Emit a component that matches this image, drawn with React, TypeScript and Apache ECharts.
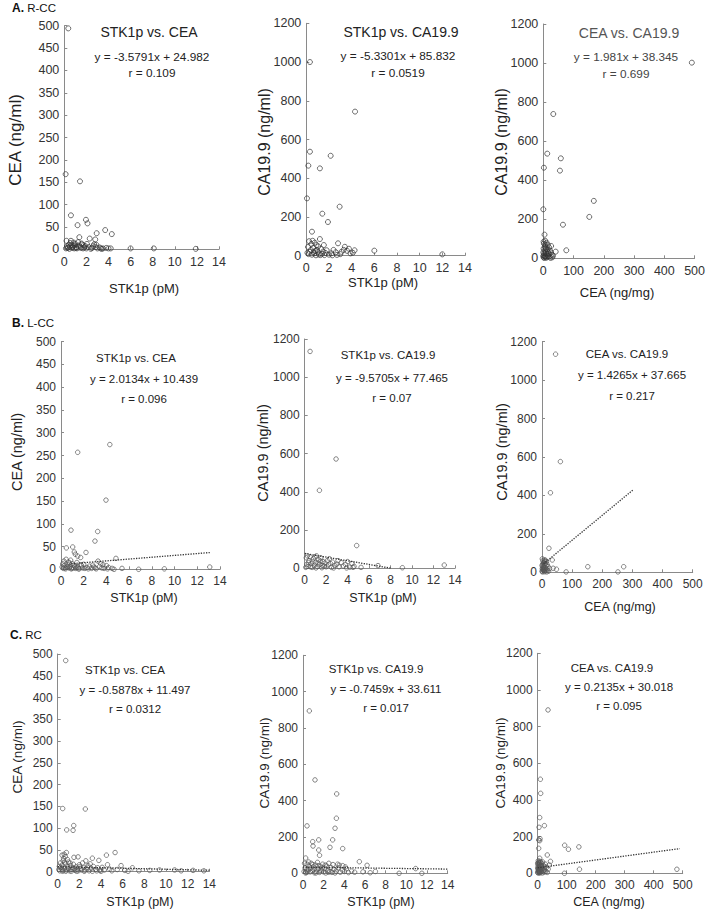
import React, { useEffect, useRef } from "react";
import * as echarts from "echarts";

// ---------- DATA ----------
const rowLabels = [
  { tag: "A.", name: "R-CC" },
  { tag: "B.", name: "L-CC" },
  { tag: "C.", name: "RC" },
];
const panelTitles = [
  "STK1p vs. CEA", "STK1p vs. CA19.9", "CEA vs. CA19.9",
  "STK1p vs. CEA", "STK1p vs. CA19.9", "CEA vs. CA19.9",
  "STK1p vs. CEA", "STK1p vs. CA19.9", "CEA vs. CA19.9",
];
const equations = [
  "y = -3.5791x + 24.982", "y = -5.3301x + 85.832", "y = 1.981x + 38.345",
  "y = 2.0134x + 10.439", "y = -9.5705x + 77.465", "y = 1.4265x + 37.665",
  "y = -0.5878x + 11.497", "y = -0.7459x + 33.611", "y = 0.2135x + 30.018",
];
const rValues = [
  "r = 0.109", "r = 0.0519", "r = 0.699",
  "r = 0.096", "r = 0.07", "r = 0.217",
  "r = 0.0312", "r = 0.017", "r = 0.095",
];
const xTitles = ["STK1p (pM)", "STK1p (pM)", "CEA (ng/mg)"];
const yTitles = ["CEA (ng/ml)", "CA19.9 (ng/ml)", "CA19.9 (ng/ml)"];
const xMaxes = [14, 14, 500];
const xSteps = [2, 2, 100];
const yMaxes = [500, 1200, 1200];
const ySteps = [50, 200, 200];

const a1Points = [[0.36,494],[0.12,168],[1.42,152],[0.6,76],[1.96,66],[2.1,58],[1.2,54],[2.93,36],[3.7,43],[4.3,34],[1.36,27],[2.3,24],[2.8,22],[2.9,10],[0.2,19],[0.6,19],[2.7,11],[1.0,12],[0.8,8],[0.5,6],[0.3,3],[0.15,2],[0.4,10],[0.7,3],[0.9,2],[1.1,5],[1.3,8],[1.5,3],[1.6,11],[1.8,4],[2.0,2],[2.2,5],[2.5,3],[2.6,7],[3.0,2],[3.2,4],[3.5,2],[3.8,3],[4.0,2],[4.2,2],[6.0,2],[8.1,2],[11.9,1],[0.25,7],[0.55,14],[0.75,5],[0.95,9],[1.15,2],[1.25,16],[1.45,6],[1.7,2],[1.9,7],[2.4,1],[0.45,1],[0.85,15],[1.05,3],[0.65,10],[2.85,5],[3.4,1],[1.55,13],[0.35,4],[1.75,9],[2.05,12],[3.3,2]];
const a2Points = [[0.32,1000],[0.32,537],[0.18,465],[0.06,296],[1.2,451],[2.15,516],[4.3,744],[2.94,253],[1.41,217],[1.91,174],[0.5,124],[0.56,77],[0.74,67],[1.2,86],[2.8,64],[3.4,46],[3.76,36],[4.26,28],[6.0,26],[12,7],[0.1,15],[0.2,8],[0.3,20],[0.4,30],[0.5,5],[0.6,40],[0.7,12],[0.8,25],[0.9,55],[1.0,18],[1.1,6],[1.3,35],[1.4,10],[1.5,22],[1.6,3],[1.7,14],[1.8,28],[2.0,5],[2.2,12],[2.4,30],[2.6,18],[3.0,8],[3.1,20],[3.6,25],[3.9,12],[4.1,15],[0.15,45],[0.45,60],[0.65,20],[1.05,48],[1.25,3],[2.3,2],[2.7,4],[0.85,2],[0.25,75],[3.3,30],[1.55,55],[0.95,30]];
const a3Points = [[491,1002],[33,739],[13,536],[2,464],[58,512],[55,449],[167,294],[152,212],[65,172],[0,251],[4,121],[76,41],[41,34],[32,14],[26,63],[19,56],[6,90],[1,5],[2,15],[3,25],[4,40],[5,60],[2,75],[7,10],[8,30],[9,48],[10,20],[12,5],[14,35],[15,68],[16,12],[18,22],[20,8],[22,40],[24,2],[28,18],[1,50],[3,2],[6,70],[11,80],[0,30],[1,85],[5,8],[7,55],[9,3],[13,45],[17,28],[25,30],[30,5],[0,12]];
const b1Points = [[4.3,274],[1.47,257],[3.96,152],[0.88,86],[3.23,83],[2.99,62],[0.47,47],[1.03,49],[2.2,37],[1.26,33],[1.47,29],[1.73,26],[1.17,38],[0.26,18],[0.85,20],[3.26,18],[4.84,24],[5.37,2],[6.84,0],[9.1,1],[13.1,5],[4.67,0],[3.7,10],[0.1,5],[0.2,2],[0.3,8],[0.4,1],[0.5,4],[0.6,10],[0.7,3],[0.8,6],[0.9,1],[1.0,12],[1.1,3],[1.2,7],[1.3,2],[1.4,15],[1.5,5],[1.6,1],[1.8,8],[1.9,3],[2.0,11],[2.1,2],[2.3,4],[2.5,7],[2.7,2],[2.9,5],[3.1,1],[3.4,6],[3.6,3],[3.8,2],[4.0,8],[4.2,4],[4.5,2],[0.15,12],[0.35,3],[0.55,6],[0.75,14],[0.95,2],[1.15,9],[1.35,4],[1.55,1],[1.75,10],[2.4,1],[2.8,9],[3.0,3],[3.5,12],[4.1,1],[0.45,22],[0.65,16]];
const b2Points = [[0.5,1135],[2.92,572],[1.37,408],[4.84,119],[6.83,14],[9.1,3],[13.0,17],[5.25,5],[0.1,5],[0.2,20],[0.3,10],[0.4,40],[0.5,60],[0.6,25],[0.7,5],[0.8,50],[0.9,15],[1.0,30],[1.1,65],[1.2,10],[1.3,45],[1.4,20],[1.5,55],[1.6,3],[1.7,35],[1.8,12],[1.9,28],[2.0,8],[2.1,40],[2.2,18],[2.4,25],[2.5,5],[2.6,32],[2.8,15],[3.0,22],[3.2,8],[3.4,30],[3.6,12],[3.8,20],[4.0,35],[4.2,6],[4.4,25],[4.6,10],[0.15,55],[0.35,30],[0.55,8],[0.75,35],[0.95,60],[1.05,2],[1.25,28],[1.45,38],[1.65,15],[2.3,50],[2.7,2],[3.1,40],[0.25,65],[4.5,5],[3.9,2]];
const b3Points = [[45,1135],[61,576],[28,414],[23,125],[34,64],[152,29],[271,29],[252,2],[80,2],[48,16],[37,21],[0,5],[1,20],[2,40],[3,60],[4,10],[5,30],[6,50],[7,15],[8,65],[9,3],[10,25],[11,45],[12,8],[13,35],[14,18],[15,55],[16,2],[18,12],[20,30],[22,6],[25,20],[1,70],[2,2],[3,28],[5,12],[7,42],[9,58],[0,35],[4,48],[6,22],[12,62],[17,40],[2,15],[8,8]];
const c1Points = [[0.74,485],[0.46,145],[2.55,144],[1.48,106],[1.42,95],[0.83,96],[5.3,44],[4.5,38],[3.8,26],[3.2,31],[1.88,34],[1.5,33],[0.6,40],[0.4,38],[0.8,44],[0.7,35],[0.55,30],[0.9,28],[1.0,22],[0.5,25],[5.85,14],[6.9,9],[9.4,4],[10.8,4],[11.4,2],[0.1,5],[0.2,2],[0.3,10],[0.4,15],[0.5,3],[0.6,8],[0.7,18],[0.8,4],[0.9,12],[1.0,6],[1.1,2],[1.2,14],[1.3,5],[1.4,9],[1.6,3],[1.7,11],[1.8,6],[1.9,2],[2.0,16],[2.1,8],[2.2,4],[2.3,20],[2.4,10],[2.5,3],[2.6,25],[2.7,6],[2.8,14],[2.9,2],[3.0,18],[3.1,8],[3.3,12],[3.5,5],[3.7,9],[3.9,3],[4.1,10],[4.3,4],[4.6,16],[4.8,6],[5.0,2],[5.5,5],[6.2,3],[6.5,1],[0.15,12],[0.25,20],[0.35,6],[0.45,1],[0.65,22],[0.75,1],[0.95,8],[1.15,20],[1.25,1],[1.45,17],[1.55,7],[1.75,1],[2.05,12],[2.45,1],[2.75,10],[3.2,1],[3.6,2],[4.0,1],[7.5,2],[8.5,3],[12.5,3],[13.5,2]];
const c2Points = [[0.61,894],[1.16,514],[3.26,437],[3.23,303],[3.1,248],[0.39,261],[2.87,184],[1.52,184],[0.94,174],[0.97,150],[1.52,128],[2.61,143],[1.6,99],[3.84,136],[0.26,84],[5.45,64],[6.2,44],[10.9,26],[9.3,0],[11.5,0],[3.35,50],[3.84,42],[0.1,10],[0.2,30],[0.3,5],[0.4,50],[0.5,20],[0.6,40],[0.7,8],[0.8,55],[0.9,15],[1.0,35],[1.1,3],[1.2,45],[1.3,12],[1.4,60],[1.5,25],[1.6,5],[1.7,38],[1.8,18],[1.9,50],[2.0,8],[2.1,28],[2.2,2],[2.3,40],[2.4,15],[2.5,55],[2.6,10],[2.7,32],[2.8,5],[3.0,22],[3.2,12],[3.4,30],[3.6,6],[3.8,18],[4.0,10],[4.2,25],[4.4,4],[4.7,12],[5.0,6],[5.8,8],[6.5,3],[7.0,10],[0.15,55],[0.35,18],[0.55,62],[0.75,28],[0.95,48],[1.05,20],[1.25,2],[1.45,42],[1.65,15],[1.85,30],[2.15,45],[2.45,6],[2.9,48],[3.1,2],[3.5,45],[4.1,35],[0.25,2],[0.45,8]];
const c3Points = [[35.6,891],[9.2,513],[10.3,436],[6.9,304],[4.6,251],[23,260],[8,189],[3.4,182],[7,178],[3.4,136],[93,153],[106,131],[142,144],[33,100],[44,65],[144,22],[92,0],[480,22],[7,82],[0,5],[1,20],[2,40],[3,60],[4,10],[5,30],[6,50],[7,15],[8,65],[9,3],[10,25],[11,45],[12,8],[13,35],[14,55],[15,12],[16,2],[18,28],[20,42],[22,6],[24,18],[26,50],[28,10],[30,32],[33,5],[36,22],[40,45],[2,8],[3,25],[4,52],[5,2],[6,35],[7,58],[8,12],[9,42],[0,30],[1,48],[2,68],[3,15],[10,60],[12,20],[15,38],[1,2],[4,28],[6,5],[0,55],[17,62],[20,15],[25,35]];

// trend line endpoints (null = no line drawn)
const trendLines: (number[][] | null)[] = [
  null, null, null,
  [[0.9, 12.3], [13.1, 36.8]],
  [[0, 77.5], [8.1, 0]],
  [[5, 44], [303, 430]],
  [[0, 11.5], [14, 3.3]],
  [[0, 33.6], [14, 23.2]],
  [[0, 30], [490, 134.6]],
];

const allPoints = [a1Points, a2Points, a3Points, b1Points, b2Points, b3Points, c1Points, c2Points, c3Points];

// ---------- LAYOUT ----------
const grids = [
  { left: 64.3, top: 25.7, width: 154.7, height: 223.6 },
  { left: 306.3, top: 23.3, width: 158.7, height: 232.4 },
  { left: 543.3, top: 24, width: 154.4, height: 234.3 },
  { left: 61, top: 341.7, width: 159, height: 227.6 },
  { left: 304.7, top: 339, width: 150.3, height: 229.3 },
  { left: 542, top: 341.7, width: 150.7, height: 230.6 },
  { left: 57.7, top: 654, width: 151.6, height: 217.7 },
  { left: 303, top: 655.3, width: 144.7, height: 218 },
  { left: 537.7, top: 653.3, width: 145, height: 220 },
];
// [titleX, titleY, eqX, eqY, rY]
const textPos = [
  [149, 32, 152, 57, 73],
  [401, 32, 398, 56, 73],
  [629, 33, 626, 57, 74],
  [136, 358, 144, 379, 399],
  [388, 355, 392, 378, 398],
  [627, 354, 632, 375, 396],
  [125, 670, 135, 690, 709],
  [376, 669, 386, 689, 708],
  [612, 668, 619, 687, 706],
];
// x title [x, y], y title [x, y]
const xTitlePos = [[144, 288], [383, 282], [617, 292], [144, 598], [383, 598], [620, 607], [140, 902], [381, 902], [609, 902]];
const yTitlePos = [[15, 140], [264, 142], [501, 142], [17, 452], [263, 453], [502, 452], [17, 757], [264, 763], [500, 763]];
const rowLabelPos = [[12, 8], [12, 323], [10, 635]];

const FONT = '"Liberation Sans", Arial, Helvetica, sans-serif';

export default function App() {
  const ref = useRef<HTMLDivElement>(null);
  useEffect(() => {
    if (!ref.current) return;
    const chart = echarts.init(ref.current, undefined, { renderer: "svg" });
    const xAxis: any[] = [];
    const yAxis: any[] = [];
    const series: any[] = [];
    const graphic: any[] = [];
    const plain = (v: number) => String(v);

    for (let i = 0; i < 9; i++) {
      const row = Math.floor(i / 3);
      const col = i % 3;
      const tickFont = row === 0 ? 12.5 : 12;
      const axisCommon = {
        axisLine: { show: true, onZero: false, lineStyle: { color: "#8a8a8a", width: 1 } },
        axisTick: { show: true, inside: true, length: 3, lineStyle: { color: "#8a8a8a" } },
        splitLine: { show: false },
      };
      xAxis.push({
        gridIndex: i, type: "value", min: 0, max: xMaxes[col], interval: xSteps[col],
        ...axisCommon,
        axisLabel: { fontSize: tickFont, color: "#333", margin: 6, fontFamily: FONT, formatter: plain },
      });
      yAxis.push({
        gridIndex: i, type: "value", min: 0, max: yMaxes[col], interval: ySteps[col],
        ...axisCommon,
        axisLabel: { fontSize: tickFont, color: "#333", margin: 5, fontFamily: FONT, formatter: plain },
      });
      const sym = row === 0 ? 5 : 4.5;
      series.push({
        type: "scatter", xAxisIndex: i, yAxisIndex: i, data: allPoints[i],
        symbol: "circle", symbolSize: sym,
        itemStyle: { color: "rgba(255,255,255,0)", borderColor: row === 0 ? "#333" : "#555", borderWidth: 0.9 },
        silent: true,
      });
      const tl = trendLines[i];
      if (tl) {
        series.push({
          type: "line", xAxisIndex: i, yAxisIndex: i, data: tl, symbol: "none",
          lineStyle: { type: "dotted", color: "#333", width: 1.3 }, silent: true, z: 3,
        });
      }
      const tp = textPos[i];
      const titleSize = row === 0 ? 14 : 11.5;
      const eqSize = row === 0 ? 11.8 : 11.5;
      const titleColor = i === 2 ? "#555" : "#222";
      graphic.push({
        type: "text", x: tp[0], y: tp[1],
        style: { text: panelTitles[i], fill: titleColor, font: `${titleSize}px ${FONT}`, textAlign: "center", textVerticalAlign: "middle", verticalAlign: "middle" },
      });
      graphic.push({
        type: "text", x: tp[2], y: tp[3],
        style: { text: equations[i], fill: i === 2 ? "#444" : "#222", font: `${eqSize}px ${FONT}`, textAlign: "center", textVerticalAlign: "middle", verticalAlign: "middle" },
      });
      graphic.push({
        type: "text", x: tp[2], y: tp[4],
        style: { text: rValues[i], fill: i === 2 ? "#444" : "#222", font: `${eqSize}px ${FONT}`, textAlign: "center", textVerticalAlign: "middle", verticalAlign: "middle" },
      });
      const xs = row === 0 ? 13 : 12.5;
      graphic.push({
        type: "text", x: xTitlePos[i][0], y: xTitlePos[i][1],
        style: { text: xTitles[col], fill: "#222", font: `${xs}px ${FONT}`, textAlign: "center", textVerticalAlign: "middle", verticalAlign: "middle" },
      });
      const ys = row === 0 ? (col === 0 ? 17 : 16) : (row === 1 ? 14.5 : 13.5);
      graphic.push({
        type: "text", x: yTitlePos[i][0], y: yTitlePos[i][1], rotation: Math.PI / 2,
        style: { text: yTitles[col], fill: "#222", font: `${ys}px ${FONT}`, textAlign: "center", textVerticalAlign: "middle", verticalAlign: "middle" },
      });
    }
    rowLabels.forEach((rl, r) => {
      graphic.push({
        type: "text", x: rowLabelPos[r][0], y: rowLabelPos[r][1],
        style: {
          text: `{b|${rl.tag}} ${rl.name}`,
          fill: "#111", font: `11.5px ${FONT}`, textAlign: "left", textVerticalAlign: "middle", verticalAlign: "middle",
          rich: { b: { fontWeight: "bold", fontSize: 12, fontFamily: FONT, fill: "#111" } },
        },
      });
    });

    chart.setOption({
      animation: false,
      backgroundColor: "#ffffff",
      textStyle: { fontFamily: FONT },
      grid: grids.map((g) => ({ ...g, containLabel: false })),
      xAxis, yAxis, series, graphic,
    });
    return () => chart.dispose();
  }, []);
  return <div ref={ref} style={{ position: "absolute", left: 0, top: 0, width: 708, height: 910 }} />;
}
